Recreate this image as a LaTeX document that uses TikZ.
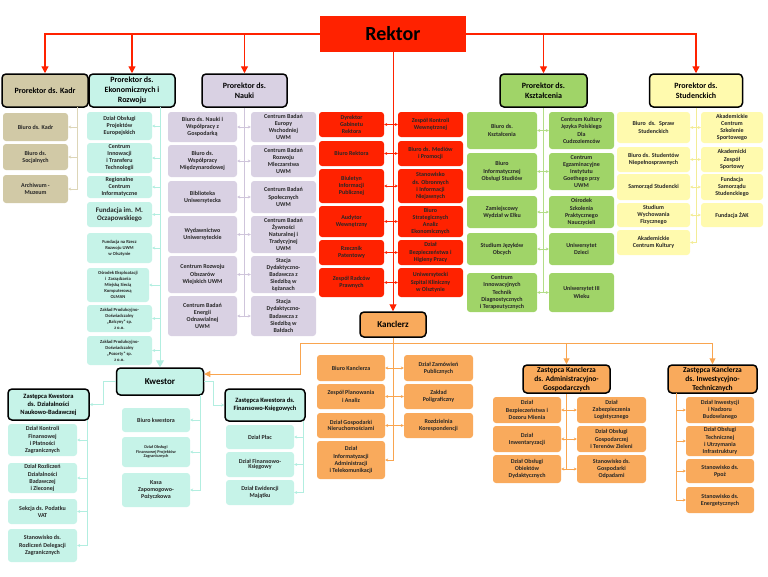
\documentclass[tikz,border=0pt]{standalone}
\usepackage{fontspec}
\setmainfont{Carlito}
\usetikzlibrary{arrows.meta}
\definecolor{rektc}{HTML}{FF2200}
\definecolor{kadc}{HTML}{D1C9A6}
\definecolor{kadl}{HTML}{DDD6B8}
\definecolor{mintc}{HTML}{C6F3E8}
\definecolor{mintl}{HTML}{B2EEE0}
\definecolor{lavc}{HTML}{D9D1E3}
\definecolor{lavl}{HTML}{CFC5DB}
\definecolor{grc}{HTML}{A0D468}
\definecolor{grl}{HTML}{B3DD88}
\definecolor{yelc}{HTML}{FFFAAE}
\definecolor{yell}{HTML}{F3EC96}
\definecolor{orc}{HTML}{F9AA5C}
\definecolor{orl}{HTML}{F9A54F}
\tikzset{
  one/.style={-{Stealth[length=3pt,width=3pt]}},
  tw/.style={{Stealth[length=3pt,width=3pt]}-{Stealth[length=3pt,width=3pt]}},
}
\begin{document}
\begin{tikzpicture}[x=1pt, y=-1pt,
  box/.style={rounded corners=3pt, align=center, inner sep=1pt, text=black!85,
    font=\fontsize{6}{7.2}\selectfont\bfseries},
  sz/.style 2 args={minimum width=#1, minimum height=#2},
  small/.style={font=\fontsize{4.6}{6}\selectfont\bfseries},
  head/.style={draw=black, line width=1.5pt, rounded corners=4pt, align=center,
    inner sep=1pt, font=\fontsize{8}{10}\selectfont\bfseries},
  sub/.style={head, font=\fontsize{6.5}{8}\selectfont\bfseries},
  red/.style={box, fill=rektc}, kad/.style={box, fill=kadc},
  mint/.style={box, fill=mintc}, lav/.style={box, fill=lavc},
  gr/.style={box, fill=grc}, yel/.style={box, fill=yelc}, ora/.style={box, fill=orc},
  redarr/.style={draw=rektc, line width=1.3pt, -{Triangle[length=7pt,width=7pt]}},
  ]
\useasboundingbox (0,0) rectangle (768,576);

\node[fill=rektc, sz={146}{36}, font=\fontsize{20}{24}\selectfont\bfseries] (rek) at (393,34) {Rektor};

\node[head, fill=kadc, sz={86}{33}] (pkad) at (45,90.5) {Prorektor ds. Kadr};
\node[head, fill=mintc, sz={86}{33}] (pek) at (132,90.5) {Prorektor ds.\\ Ekonomicznych i\\ Rozwoju};
\node[head, fill=lavc, sz={85}{33}] (pna) at (244.5,90.5) {Prorektor ds.\\ Nauki};
\node[head, fill=grc, sz={87}{33}] (pks) at (543.5,90.5) {Prorektor ds.\\ Kształcenia};
\node[head, fill=yelc, sz={93}{33}] (pst) at (696,90.5) {Prorektor ds.\\ Studenckich};

\node[kad, sz={65}{28}] (kd1) at (35.5,127) {Biuro ds. Kadr};
\node[kad, sz={65}{26}] (kd2) at (35.5,157) {Biuro ds.\\ Socjalnych};
\node[kad, sz={65}{28}] (kd3) at (35.5,189) {Archiwum -\\ Muzeum};

\node[mint, sz={65}{28}] (e1) at (119.5,126) {Dział Obsługi\\ Projektów\\ Europejskich};
\node[mint, sz={65}{30}, font=\fontsize{6}{7}\selectfont\bfseries] (e2) at (119.5,158) {Centrum\\ Innowacji\\ i Transferu\\ Technologii};
\node[mint, sz={65}{22}] (e3) at (119.5,187) {Regionalne\\ Centrum\\ Informatyczne};
\node[mint, sz={65}{25}, font=\fontsize{7}{8.5}\selectfont\bfseries] (e4) at (119.5,214.5) {Fundacja im. M.\\ Oczapowskiego};
\node[mint, small, sz={65}{30}] (e5) at (119.5,248) {Fundacja na Rzecz\\ Rozwoju UWM\\ w Olsztynie};
\node[mint, small, sz={62}{34}] (e6) at (118,285) {Ośrodek Eksploatacji\\ i~ Zarządzania\\ Miejską Siecią\\ Komputerową\\ OLMAN};
\node[mint, small, sz={65}{27}] (e7) at (119.5,318.5) {Zakład Produkcyjno-\\ Doświadczalny\\ „Bałcyny” sp.\\ z o.o.};
\node[mint, small, sz={65}{29}] (e8) at (119.5,350.5) {Zakład Produkcyjno-\\ Doświadczalny\\ „Pozorty” sp.\\ z o.o.};

\node[lav, sz={69}{30}] (nl1) at (202.5,127) {Biuro ds. Nauki i\\ Współpracy z\\ Gospodarką};
\node[lav, sz={65}{30}] (nr1) at (283.5,127) {Centrum Badań\\ Europy\\ Wschodniej\\ UWM};
\node[lav, sz={69}{32}] (nl2) at (202.5,161) {Biuro ds.\\ Współpracy\\ Międzynarodowej};
\node[lav, sz={65}{32}] (nr2) at (283.5,161) {Centrum Badań\\ Rozwoju\\ Mleczarstwa\\ UWM};
\node[lav, sz={69}{32}] (nl3) at (202.5,197) {Biblioteka\\ Uniwersytecka};
\node[lav, sz={65}{32}] (nr3) at (283.5,197) {Centrum Badań\\ Społecznych\\ UWM};
\node[lav, sz={69}{37}] (nl4) at (202.5,234.5) {Wydawnictwo\\ Uniwersyteckie};
\node[lav, sz={65}{37}, font=\fontsize{6}{7}\selectfont\bfseries] (nr4) at (283.5,234.5) {Centrum Badań\\ Żywności\\ Naturalnej i\\ Tradycyjnej\\ UWM};
\node[lav, sz={69}{37}] (nl5) at (202.5,274.5) {Centrum Rozwoju\\ Obszarów\\ Wiejskich UWM};
\node[lav, sz={65}{37}, font=\fontsize{6}{7}\selectfont\bfseries] (nr5) at (283.5,274.5) {Stacja\\ Dydaktyczno-\\ Badawcza z\\ Siedzibą w\\ Łężanach};
\node[lav, sz={69}{40}] (nl6) at (202.5,316) {Centrum Badań\\ Energii\\ Odnawialnej\\ UWM};
\node[lav, sz={65}{40}, font=\fontsize{6}{7.2}\selectfont\bfseries] (nr6) at (283.5,316) {Stacja\\ Dydaktyczno-\\ Badawcza z\\ Siedzibą w\\ Bałdach};

\node[red, sz={65}{25}] (rl1) at (351.5,124.5) {Dyrektor\\ Gabinetu\\ Rektora};
\node[red, sz={65}{25}] (rr1) at (430.5,124.5) {Zespół Kontroli\\ Wewnętrznej};
\node[red, sz={65}{25}] (rl2) at (351.5,153.5) {Biuro Rektora};
\node[red, sz={65}{25}] (rr2) at (430.5,153.5) {Biuro ds. Mediów\\ i Promocji};
\node[red, sz={65}{34}] (rl3) at (351.5,186) {Biuletyn\\ Informacji\\ Publicznej};
\node[red, sz={65}{34}] (rr3) at (430.5,186) {Stanowisko\\ ds. Obronnych\\ i Informacji\\ Niejawnych};
\node[red, sz={65}{31}] (rl4) at (351.5,221.5) {Audytor\\ Wewnętrzny};
\node[red, sz={65}{31}] (rr4) at (430.5,221.5) {Biuro\\ Strategicznych\\ Analiz\\ Ekonomicznych};
\node[red, sz={65}{25}] (rl5) at (351.5,252.5) {Rzecznik\\ Patentowy};
\node[red, sz={65}{25}] (rr5) at (430.5,252.5) {Dział\\ Bezpieczeństwa i\\ Higieny Pracy};
\node[red, sz={65}{29}] (rl6) at (351.5,282.5) {Zespół Radców\\ Prawnych};
\node[red, sz={65}{29}] (rr6) at (430.5,282.5) {Uniwersytecki\\ Szpital Kliniczny\\ w Olsztynie};

\node[gr, sz={70}{37}] (kl1) at (502,130.5) {Biuro ds.\\ Kształcenia};
\node[gr, sz={65}{37}] (kr1) at (581.5,130.5) {Centrum Kultury\\ Języka Polskiego\\ Dla\\ Cudzoziemców};
\node[gr, sz={70}{37}] (kl2) at (502,171.5) {Biuro\\ Informatycznej\\ Obsługi Studiów};
\node[gr, sz={65}{37}, font=\fontsize{6}{7}\selectfont\bfseries] (kr2) at (581.5,171.5) {Centrum\\ Egzaminacyjne\\ Instytutu\\ Goethego przy\\ UWM};
\node[gr, sz={70}{32}] (kl3) at (502,212) {Zamiejscowy\\ Wydział w Ełku};
\node[gr, sz={65}{32}] (kr3) at (581.5,212) {Ośrodek\\ Szkolenia\\ Praktycznego\\ Nauczycieli};
\node[gr, sz={70}{32}] (kl4) at (502,249) {Studium Języków\\ Obcych};
\node[gr, sz={65}{32}] (kr4) at (581.5,249) {Uniwersytet\\ Dzieci};
\node[gr, sz={70}{39}, font=\fontsize{6}{7.2}\selectfont\bfseries] (kl5) at (502,292.5) {Centrum\\ Innowacyjnych\\ Technik\\ Diagnostycznych\\ i Terapeutycznych};
\node[gr, sz={65}{39}] (kr5) at (581.5,292.5) {Uniwersytet III\\ Wieku};

\node[yel, sz={73}{31}] (sl1) at (653.5,127.5) {Biuro~ ds.~ Spraw\\ Studenckich};
\node[yel, sz={62}{31}] (sr1) at (732,127.5) {Akademickie\\ Centrum\\ Szkolenie\\ Sportowego};
\node[yel, sz={73}{25}] (sl2) at (653.5,159.5) {Biuro ds. Studentów\\ Niepełnosprawnych};
\node[yel, sz={62}{25}] (sr2) at (732,159.5) {Akademicki\\ Zespół\\ Sportowy};
\node[yel, sz={73}{26}] (sl3) at (653.5,187) {Samorząd Studencki};
\node[yel, sz={62}{26}] (sr3) at (732,187) {Fundacja\\ Samorządu\\ Studenckiego};
\node[yel, sz={73}{24}] (sl4) at (653.5,215) {Studium\\ Wychowania\\ Fizycznego};
\node[yel, sz={62}{24}] (sr4) at (732,215) {Fundacja ŻAK};
\node[yel, sz={73}{25}] (sl5) at (653.5,242.5) {Akademickie\\ Centrum Kultury};

\node[head, fill=orc, sz={66}{25}, font=\fontsize{9}{11}\selectfont\bfseries] (kan) at (393,324.5) {Kanclerz};
\node[head, fill=mintc, sz={87}{27}, font=\fontsize{9}{11}\selectfont\bfseries] (kw) at (160,381.5) {Kwestor};

\node[sub, fill=mintc, sz={81}{31}] (zkn) at (48.5,404.5) {Zastępca Kwestora\\ ds. Działalności\\ Naukowo-Badawczej};
\node[sub, fill=mintc, sz={80}{32}] (zkf) at (265,405) {Zastępca Kwestora ds.\\ Finansowo-Księgowych};

\node[mint, sz={68}{24}] (kw1) at (156,420) {Biuro kwestora};
\node[mint, sz={68}{30}, font=\fontsize{4.3}{4.8}\selectfont\bfseries] (kw2) at (156,452) {Dział Obsługi\\ Finansowej Projektów\\ Zagranicznych};
\node[mint, sz={68}{34}] (kw3) at (156,490) {Kasa\\ Zapomogowo-\\ Pożyczkowa};

\node[mint, sz={69}{32}] (nb1) at (42.5,440) {Dział Kontroli\\ Finansowej\\ i Płatności\\ Zagranicznych};
\node[mint, sz={69}{30}] (nb2) at (42.5,478) {Dział Rozliczeń\\ Działalności\\ Badawczej\\ i Zleconej};
\node[mint, sz={69}{25}] (nb3) at (42.5,511.5) {Sekcja ds. Podatku\\ VAT};
\node[mint, sz={69}{33}] (nb4) at (42.5,545.5) {Stanowisko ds.\\ Rozliczeń Delegacji\\ Zagranicznych};

\node[mint, sz={68}{24}] (fk1) at (260,437) {Dział Płac};
\node[mint, sz={68}{25}, font=\fontsize{6}{5.6}\selectfont\bfseries] (fk2) at (260,464.5) {Dział Finansowo-\\ Księgowy};
\node[mint, sz={68}{25}] (fk3) at (260,492.5) {Dział Ewidencji\\ Majątku};

\node[ora, sz={68}{26}] (kcl1) at (351,368) {Biuro Kanclerza};
\node[ora, sz={69}{26}] (kcr1) at (438.5,368) {Dział Zamówień\\ Publicznych};
\node[ora, sz={68}{25}] (kcl2) at (351,396.5) {Zespół Planowania\\ i Analiz};
\node[ora, sz={69}{25}] (kcr2) at (438.5,396.5) {Zakład\\ Poligraficzny};
\node[ora, sz={68}{25}, font=\fontsize{6}{5.8}\selectfont\bfseries] (kcl3) at (351,425.5) {Dział Gospodarki\\ Nieruchomościami};
\node[ora, sz={69}{25}] (kcr3) at (438.5,425.5) {Rozdzielnia\\ Korespondencji};
\node[ora, sz={68}{38}] (kcl4) at (351,460) {Dział\\ Informatyzacji\\ Administracji\\ i Telekomunikacji};

\node[sub, fill=orc, sz={87}{28}, font=\fontsize{7.5}{9}\selectfont\bfseries] (zka) at (566.5,379) {Zastępca Kanclerza\\ ds. Administracyjno-\\ Gospodarczych};
\node[sub, fill=orc, sz={89}{28}, font=\fontsize{7.5}{9}\selectfont\bfseries] (zki) at (712.5,379) {Zastępca Kanclerza\\ ds. Inwestycyjno-\\ Technicznych};

\node[ora, sz={68}{26}] (al1) at (527,410) {Dział\\ Bezpieczeństwa i\\ Dozoru Mienia};
\node[ora, sz={69}{26}] (ar1) at (611.5,410) {Dział\\ Zabezpieczenia\\ Logistycznego};
\node[ora, sz={68}{26}] (al2) at (527,439) {Dział\\ Inwentaryzacji};
\node[ora, sz={69}{26}] (ar2) at (611.5,439) {Dział Obsługi\\ Gospodarczej\\ i Terenów Zieleni};
\node[ora, sz={68}{28}] (al3) at (527,469) {Dział Obsługi\\ Obiektów\\ Dydaktycznych};
\node[ora, sz={69}{28}] (ar3) at (611.5,469) {Stanowisko ds.\\ Gospodarki\\ Odpadami};

\node[ora, sz={68}{26}] (iv1) at (720,410) {Dział Inwestycji\\ i Nadzoru\\ Budowlanego};
\node[ora, sz={68}{30}] (iv2) at (720,441) {Dział Obsługi\\ Technicznej\\ i Utrzymania\\ Infrastruktury};
\node[ora, sz={68}{24}] (iv3) at (720,471) {Stanowisko ds.\\ Ppoż};
\node[ora, sz={68}{26}] (iv4) at (720,500) {Stanowisko ds.\\ Energetycznych};

\coordinate (kadb) at (77,107);
\coordinate (ekb) at (160,107);
\coordinate (kwl) at (103,0);
\coordinate (kwr) at (213,0);
\coordinate (kwb) at (200,395);
\coordinate (nbb) at (87,420);
\coordinate (fkb) at (303,421);
\coordinate (orb) at (393,343);
\coordinate (orlk) at (300,374);
\coordinate (inb) at (676,393);

\foreach \p in {pkad,pek,pna} \draw[redarr] (rek.west) -| (\p.north);
\foreach \p in {pks,pst} \draw[redarr] (rek.east) -| (\p.north);
\draw[redarr, line width=1pt] (rek.south) -- (kan.north);
\foreach \i in {1,...,6} \draw[rektc, line width=0.6pt, tw] (rl\i.east) -- (rr\i.west);

\foreach \i in {1,2,3} \draw[kadl, line width=0.8pt, one] (kadb) |- (kd\i.east);
\foreach \i in {1,...,8} \draw[mintl, line width=0.8pt, one] (ekb) |- (e\i.east);
\draw[mintl, line width=1pt, -{Triangle[length=7pt,width=8pt]}] (ekb) -- (kw.north);

\draw[lavl, line width=0.8pt] (pna.south) -- (pna.south |- nl6.east);
\foreach \i in {1,...,6} \draw[lavl, line width=0.6pt, tw] (nl\i.east) -- (nr\i.west);

\draw[grl, line width=0.8pt] (pks.south) -- (pks.south |- kl5.east);
\foreach \i in {1,...,5} \draw[grl, line width=0.6pt, tw] (kl\i.east) -- (kr\i.west);

\draw[yell, line width=0.8pt] (pst.south) -- (pst.south |- sl5.east);
\foreach \i in {1,...,4} \draw[yell, line width=0.6pt, tw] (sl\i.east) -- (sr\i.west);
\draw[yell, line width=0.8pt, one] (pst.south) |- (sl5.east);

\draw[mintl, line width=0.8pt, one] (kw.west) -| (kwl |- zkn.east) -- (zkn.east);
\draw[mintl, line width=0.8pt, one] (kw.east) -| (kwr |- zkf.west) -- (zkf.west);
\foreach \i in {1,2,3} \draw[mintl, line width=0.8pt, one] (kwb) |- (kw\i.east);
\foreach \i in {1,...,4} \draw[mintl, line width=0.8pt, one] (nbb) |- (nb\i.east);
\foreach \i in {1,2,3} \draw[mintl, line width=0.8pt, one] (fkb) |- (fk\i.east);

\draw[orl, line width=1pt] (kan.south) -- (orb);
\foreach \p in {zka,zki} \draw[orl, line width=1pt, -{Triangle[length=6pt,width=6pt]}] (orb) -| (\p.north);
\draw[orl, line width=1pt, -{Triangle[length=6pt,width=6pt]}] (orb) -| (orlk) -- (orlk -| kw.east);
\foreach \i in {1,2,3} \draw[orl, line width=0.6pt, tw] (kcl\i.east) -- (kcr\i.west);
\draw[orl, line width=0.8pt, one] (orb) |- (kcl4.east);
\draw[orl, line width=0.8pt] (zka.south) -- (zka.south |- al3.east);
\foreach \i in {1,2,3} \draw[orl, line width=0.6pt, tw] (al\i.east) -- (ar\i.west);
\foreach \i in {1,...,4} \draw[orl, line width=0.8pt, one] (inb) |- (iv\i.west);
\end{tikzpicture}
\end{document}
